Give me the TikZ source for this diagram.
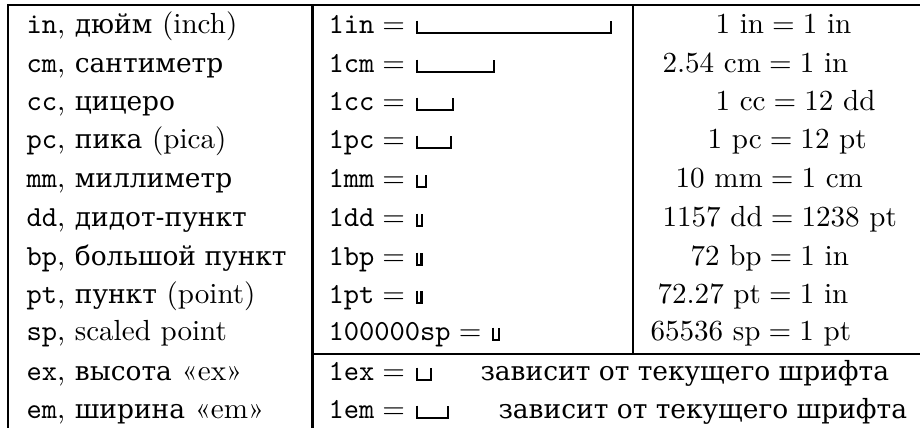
\documentclass[tikz,border=0pt]{standalone}
\usepackage{fontspec}
\newfontfamily\cyrfont[Scale=0.91]{DejaVu Serif}
\usetikzlibrary{positioning}
\tikzstyle{cell} = [anchor=base west, inner sep=0pt, font=\fontsize{10.95}{13}\selectfont]
\tikzstyle{tabline} = [draw, line width=0.9pt]
\tikzstyle{ruler} = [draw, line width=0.8pt]
% bracket of given length (px) after a node
\newcommand{\unitbar}[2]{\path[ruler] (#1.base east) ++(3,-12.5) |- ++(#2+2.1,12.5) -- ++(0,-12.5);}

\begin{document}
\begin{tikzpicture}[x=0.3764pt, y=-0.3764pt]
    \useasboundingbox (0,0) rectangle (920,428);

    % Place nodes: unit names
    \node [cell] (in-name) at (26,33) {\texttt{in}, {\cyrfont дюйм} (inch)};
    \node [cell] (cm-name) at (26,72) {\texttt{cm}, {\cyrfont сантиметр}};
    \node [cell] (cc-name) at (26,110) {\texttt{cc}, {\cyrfont цицеро}};
    \node [cell] (pc-name) at (26,148) {\texttt{pc}, {\cyrfont пика} (pica)};
    \node [cell] (mm-name) at (26,187) {\texttt{mm}, {\cyrfont миллиметр}};
    \node [cell] (dd-name) at (26,226) {\texttt{dd}, {\cyrfont дидот-пункт}};
    \node [cell] (bp-name) at (26,265) {\texttt{bp}, {\cyrfont большой пункт}};
    \node [cell] (pt-name) at (26,303) {\texttt{pt}, {\cyrfont пункт} (point)};
    \node [cell] (sp-name) at (26,340) {\texttt{sp}, scaled point};
    \node [cell] (ex-name) at (26,380) {\texttt{ex}, {\cyrfont высота} «ex»};
    \node [cell] (em-name) at (26,418) {\texttt{em}, {\cyrfont ширина} «em»};

    % Place nodes: samples
    \node [cell] (in-eq) at (328,33) {\texttt{1in}${}={}$};
    \node [cell] (cm-eq) at (328,72) {\texttt{1cm}${}={}$};
    \node [cell] (cc-eq) at (328,110) {\texttt{1cc}${}={}$};
    \node [cell] (pc-eq) at (328,148) {\texttt{1pc}${}={}$};
    \node [cell] (mm-eq) at (328,187) {\texttt{1mm}${}={}$};
    \node [cell] (dd-eq) at (328,226) {\texttt{1dd}${}={}$};
    \node [cell] (bp-eq) at (328,265) {\texttt{1bp}${}={}$};
    \node [cell] (pt-eq) at (328,303) {\texttt{1pt}${}={}$};
    \node [cell] (sp-eq) at (328,340) {\texttt{100000sp}${}={}$};
    \node [cell] (ex-eq) at (328,380) {\texttt{1ex}${}={}$};
    \node [cell] (em-eq) at (328,418) {\texttt{1em}${}={}$};

    % Place nodes: relations
    \node [cell] (in-rel) at (715,33) {1~in${}={}$1~in};
    \node [cell] (cm-rel) at (662,72) {2.54~cm${}={}$1~in};
    \node [cell] (cc-rel) at (715,110) {1~cc${}={}$12~dd};
    \node [cell] (pc-rel) at (707,148) {1~pc${}={}$12~pt};
    \node [cell] (mm-rel) at (675,187) {10~mm${}={}$1~cm};
    \node [cell] (dd-rel) at (662,226) {1157~dd${}={}$1238~pt};
    \node [cell] (bp-rel) at (690,265) {72~bp${}={}$1~in};
    \node [cell] (pt-rel) at (657,303) {72.27~pt${}={}$1~in};
    \node [cell] (sp-rel) at (650,340) {65536~sp${}={}$1~pt};
    \node [cell] (ex-rel) at (480,380) {\cyrfont зависит от текущего шрифта};
    \node [cell] (em-rel) at (498,418) {\cyrfont зависит от текущего шрифта};

    % Draw rulers
    \unitbar{in-eq}{192}
    \unitbar{cm-eq}{75.6}
    \unitbar{cc-eq}{34.1}
    \unitbar{pc-eq}{31.9}
    \unitbar{mm-eq}{7.6}
    \unitbar{dd-eq}{2.8}
    \unitbar{bp-eq}{2.7}
    \unitbar{pt-eq}{2.7}
    \unitbar{sp-eq}{4.1}
    \unitbar{ex-eq}{12.5}
    \unitbar{em-eq}{29.1}

    % Table lines
    \coordinate (top-left) at (8,5);
    \coordinate (col-a) at (312.5,5);
    \coordinate (col-b) at (633,5);
    \coordinate (split) at (312.5,354);
    \path [tabline] (920,5) -- (top-left) -- (8,428);
    \path [tabline] (col-a) -- (312.5,428);
    \path [tabline] (col-b) -- (633,354);
    \path [tabline] (split) -- (920,354);
\end{tikzpicture}
\end{document}
